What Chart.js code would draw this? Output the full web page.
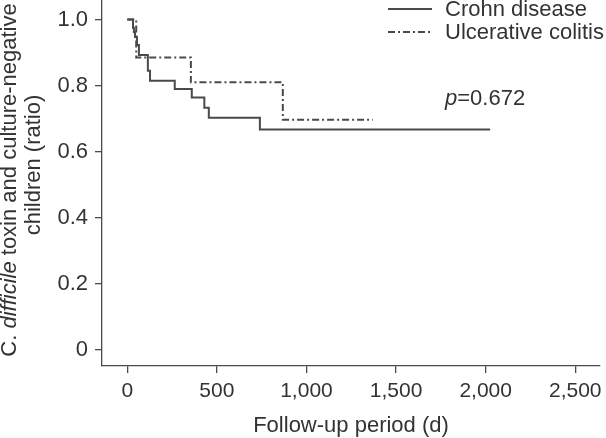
<!DOCTYPE html>
<html>
<head>
<meta charset="utf-8">
<script src="https://cdn.jsdelivr.net/npm/chart.js@4.4.1/dist/chart.umd.min.js"></script>
<style>
  html, body { margin: 0; padding: 0; background: #fff; }
  #wrap { width: 606px; height: 438px; position: relative; }
</style>
</head>
<body>
<div id="wrap"><canvas id="kmChart"></canvas></div>
<script>
// Kaplan-Meier curves (day, ratio)
const crohnDays = [0, 32, 37, 43, 54, 65, 115, 127, 265, 360, 430, 455, 740, 2025];
const crohnRatio = [1.0, 0.975, 0.962, 0.947, 0.923, 0.893, 0.845, 0.815, 0.79, 0.764, 0.733, 0.703, 0.667, 0.667];
const ucDays = [0, 50, 355, 868, 1370];
const ucRatio = [1.0, 0.885, 0.81, 0.697, 0.697];

const seriesNames = ["Crohn disease", "Ulcerative colitis"];
const xTickValues = [0, 500, 1000, 1500, 2000, 2500];
const xTickLabels = ["0", "500", "1,000", "1,500", "2,000", "2,500"];
const yTickValues = [0, 0.2, 0.4, 0.6, 0.8, 1.0];
const yTickLabels = ["0", "0.2", "0.4", "0.6", "0.8", "1.0"];
const pValueText = "=0.672";

const lineColor = "#4a4a4a";
const textColor = "#333333";
const fontFamily = "'Liberation Sans', Arial, Helvetica, sans-serif";
const ucDash = [7, 3, 2, 3];

function toPoints(xs, ys) {
    return xs.map(function (x, i) { return { x: x, y: ys[i] }; });
}

// legend, p-value and the two-line y title are drawn by hand
const extrasPlugin = {
    id: "extras",
    afterDraw: function (chart) {
        var ctx = chart.ctx;
        ctx.save();
        ctx.fillStyle = textColor;
        ctx.strokeStyle = lineColor;
        ctx.textBaseline = "middle";
        ctx.font = "22px " + fontFamily;

        // legend
        ctx.lineWidth = 2;
        ctx.beginPath();
        ctx.moveTo(388, 9); ctx.lineTo(432, 9);
        ctx.stroke();
        ctx.setLineDash(ucDash);
        ctx.beginPath();
        ctx.moveTo(388, 32); ctx.lineTo(432, 32);
        ctx.stroke();
        ctx.setLineDash([]);
        ctx.textAlign = "left";
        ctx.fillText(seriesNames[0], 445, 10);
        ctx.fillText(seriesNames[1], 445, 33);

        // p value
        ctx.textBaseline = "alphabetic";
        ctx.font = "italic 22px " + fontFamily;
        ctx.fillText("p", 445, 105);
        var pw = ctx.measureText("p").width;
        ctx.font = "22px " + fontFamily;
        ctx.fillText(pValueText, 445 + pw, 105);

        // y axis title, first line with italic species name
        ctx.save();
        ctx.translate(10, 180);
        ctx.rotate(-Math.PI / 2);
        ctx.textBaseline = "middle";
        var parts = [["C. ", false], ["difficile", true], [" toxin and culture-negative", false]];
        var total = 0;
        parts.forEach(function (p) {
            ctx.font = (p[1] ? "italic " : "") + "22px " + fontFamily;
            total += ctx.measureText(p[0]).width;
        });
        var x = -total / 2;
        parts.forEach(function (p) {
            ctx.font = (p[1] ? "italic " : "") + "22px " + fontFamily;
            ctx.fillText(p[0], x, 0);
            x += ctx.measureText(p[0]).width;
        });
        ctx.restore();
        ctx.save();
        ctx.translate(34, 165);
        ctx.rotate(-Math.PI / 2);
        ctx.textAlign = "center";
        ctx.textBaseline = "middle";
        ctx.font = "22px " + fontFamily;
        ctx.fillText("children (ratio)", 0, 0);
        ctx.restore();

        ctx.restore();
    }
};

var myChart = new Chart(document.getElementById("kmChart").getContext("2d"), {
    type: "line",
    data: {
        datasets: [{
            label: seriesNames[0],
            data: toPoints(crohnDays, crohnRatio),
            borderColor: lineColor,
            borderWidth: 2,
            stepped: "before",
            pointRadius: 0,
            fill: false
        }, {
            label: seriesNames[1],
            data: toPoints(ucDays, ucRatio),
            borderColor: lineColor,
            borderWidth: 2,
            borderDash: ucDash,
            stepped: "before",
            pointRadius: 0,
            fill: false
        }]
    },
    options: {
        responsive: true,
        maintainAspectRatio: false,
        animation: false,
        layout: { padding: { top: 0, right: 6, left: 0, bottom: 0 } },
        plugins: {
            legend: { display: false },
            tooltip: { enabled: false }
        },
        scales: {
            x: {
                type: "linear",
                min: -141,
                max: 2638,
                afterBuildTicks: function (scale) {
                    scale.ticks = xTickValues.map(function (v) { return { value: v }; });
                },
                afterFit: function (scale) {
                    scale.height = 72;
                    scale.paddingLeft = 0;
                    scale.paddingRight = 0;
                },
                ticks: {
                    color: textColor,
                    padding: 6,
                    maxRotation: 0,
                    font: { family: fontFamily, size: 21 },
                    callback: function (value, index) { return xTickLabels[index]; }
                },
                grid: { drawOnChartArea: false, drawTicks: true, tickLength: 7, color: lineColor, lineWidth: 1.3 },
                border: { display: true, color: lineColor, width: 1.3 },
                title: {
                    display: true,
                    text: "Follow-up period (d)",
                    color: textColor,
                    padding: { top: 0, bottom: 0 },
                    font: { family: fontFamily, size: 22, lineHeight: 1.1 }
                }
            },
            y: {
                type: "linear",
                min: -0.048,
                max: 1.059,
                afterBuildTicks: function (scale) {
                    scale.ticks = yTickValues.map(function (v) { return { value: v }; });
                },
                afterFit: function (scale) {
                    scale.width = 102;
                    scale.paddingTop = 0;
                    scale.paddingBottom = 0;
                },
                ticks: {
                    color: textColor,
                    padding: 7,
                    font: { family: fontFamily, size: 22 },
                    callback: function (value, index) { return yTickLabels[index]; }
                },
                grid: { drawOnChartArea: false, drawTicks: true, tickLength: 7, color: lineColor, lineWidth: 1.3 },
                border: { display: true, color: lineColor, width: 1.3 }
            }
        }
    },
    plugins: [extrasPlugin]
});
</script>
</body>
</html>
